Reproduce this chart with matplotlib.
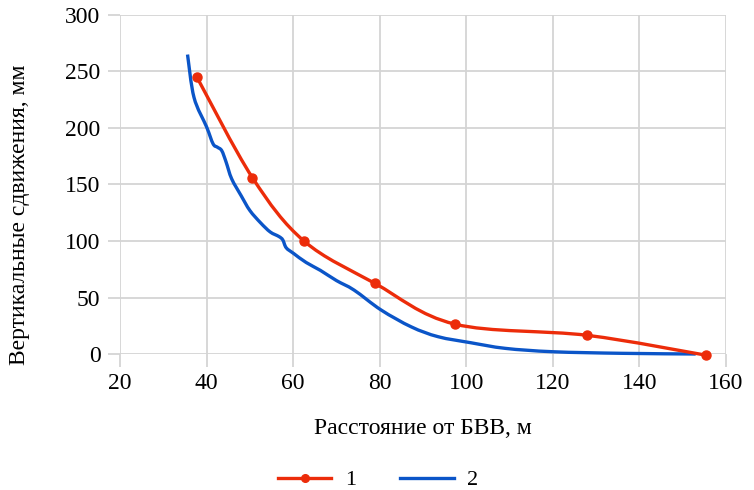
import matplotlib.pyplot as plt
from matplotlib.path import Path
from matplotlib.patches import PathPatch
from matplotlib.lines import Line2D

# Серия 1 (точки замеров)
x1 = [37.7, 50.6, 62.5, 78.9, 97.3, 128.0, 155.3]
y1 = [245.5, 156.0, 100.0, 62.5, 26.5, 16.5, -1.0]

# Серия 2 (расчётная кривая)
x2 = [35.6, 37.1, 40.0, 41.5, 42.5, 43.5, 44.5, 45.8, 48.0, 50.0, 52.5,
      54.7, 56.7, 57.6, 58.4, 60.1, 63.0, 66.3, 70.0, 74.1, 80.3, 87.3, 93.5,
      101.0, 109.0, 120.0, 136.0, 153.0]
y2 = [265, 227, 201, 186, 183, 180, 170, 155, 140, 127, 116,
      108, 104, 101, 94, 89, 81, 74, 65, 56.5, 39, 24, 15.3,
      10, 5, 2, 0.6, 0]

x_ticks = [20, 40, 60, 80, 100, 120, 140, 160]
y_ticks = [0, 50, 100, 150, 200, 250, 300]

red = '#ec2c0a'
blue = '#0b55c8'
grid_c = '#d4d4d4'


def smooth_path(xs, ys):
    # сглаженная линия как в Excel (Catmull-Rom -> Bezier)
    verts = [(xs[0], ys[0])]
    codes = [Path.MOVETO]
    n = len(xs)
    for i in range(n - 1):
        a = max(i - 1, 0)
        d = min(i + 2, n - 1)
        c1 = (xs[i] + (xs[i + 1] - xs[a]) / 6, ys[i] + (ys[i + 1] - ys[a]) / 6)
        c2 = (xs[i + 1] - (xs[d] - xs[i]) / 6, ys[i + 1] - (ys[d] - ys[i]) / 6)
        verts += [c1, c2, (xs[i + 1], ys[i + 1])]
        codes += [Path.CURVE4] * 3
    return Path(verts, codes)


plt.rcParams['font.family'] = ['Liberation Serif', 'DejaVu Serif']

fig = plt.figure(figsize=(7.54, 4.90), dpi=100)
ax = fig.add_axes([120 / 754, 1 - 354 / 490, 606 / 754, 339 / 490])

ax.set_xlim(20, 160)
ax.set_ylim(0, 300)
ax.set_xticks(x_ticks)
ax.set_yticks(y_ticks)
ax.grid(True, color=grid_c, linewidth=1.3)
ax.set_axisbelow(True)
for s in ax.spines.values():
    s.set_visible(False)
ax.tick_params(length=9, width=1.3, color=grid_c, labelsize=17, pad=5)

ax.add_patch(PathPatch(smooth_path(x2, y2), facecolor='none', edgecolor=blue,
                       linewidth=2.4, clip_on=False, zorder=3))
ax.add_patch(PathPatch(smooth_path(x1, y1), facecolor='none', edgecolor=red,
                       linewidth=2.4, clip_on=False, zorder=4))
ax.plot(x1, y1, 'o', color=red, markersize=6.5, clip_on=False, zorder=5)

fig.text(423 / 754, 1 - 428 / 490, 'Расстояние от БВВ, м', fontsize=17,
         ha='center', va='center')
fig.text(20 / 754, 1 - 215 / 490, 'Вертикальные сдвижения, мм', fontsize=17,
         ha='center', va='center', rotation=90)

handles = [Line2D([], [], color=red, linewidth=2.4, marker='o', markersize=5.5),
           Line2D([], [], color=blue, linewidth=2.4)]
fig.legend(handles, ['1', '2'], loc='center', bbox_to_anchor=(378 / 754, 1 - 480 / 490),
           ncol=2, frameon=False, fontsize=16, handlelength=2.4, columnspacing=2.0,
           handletextpad=0.6)

fig.savefig('out.png', dpi=100)
